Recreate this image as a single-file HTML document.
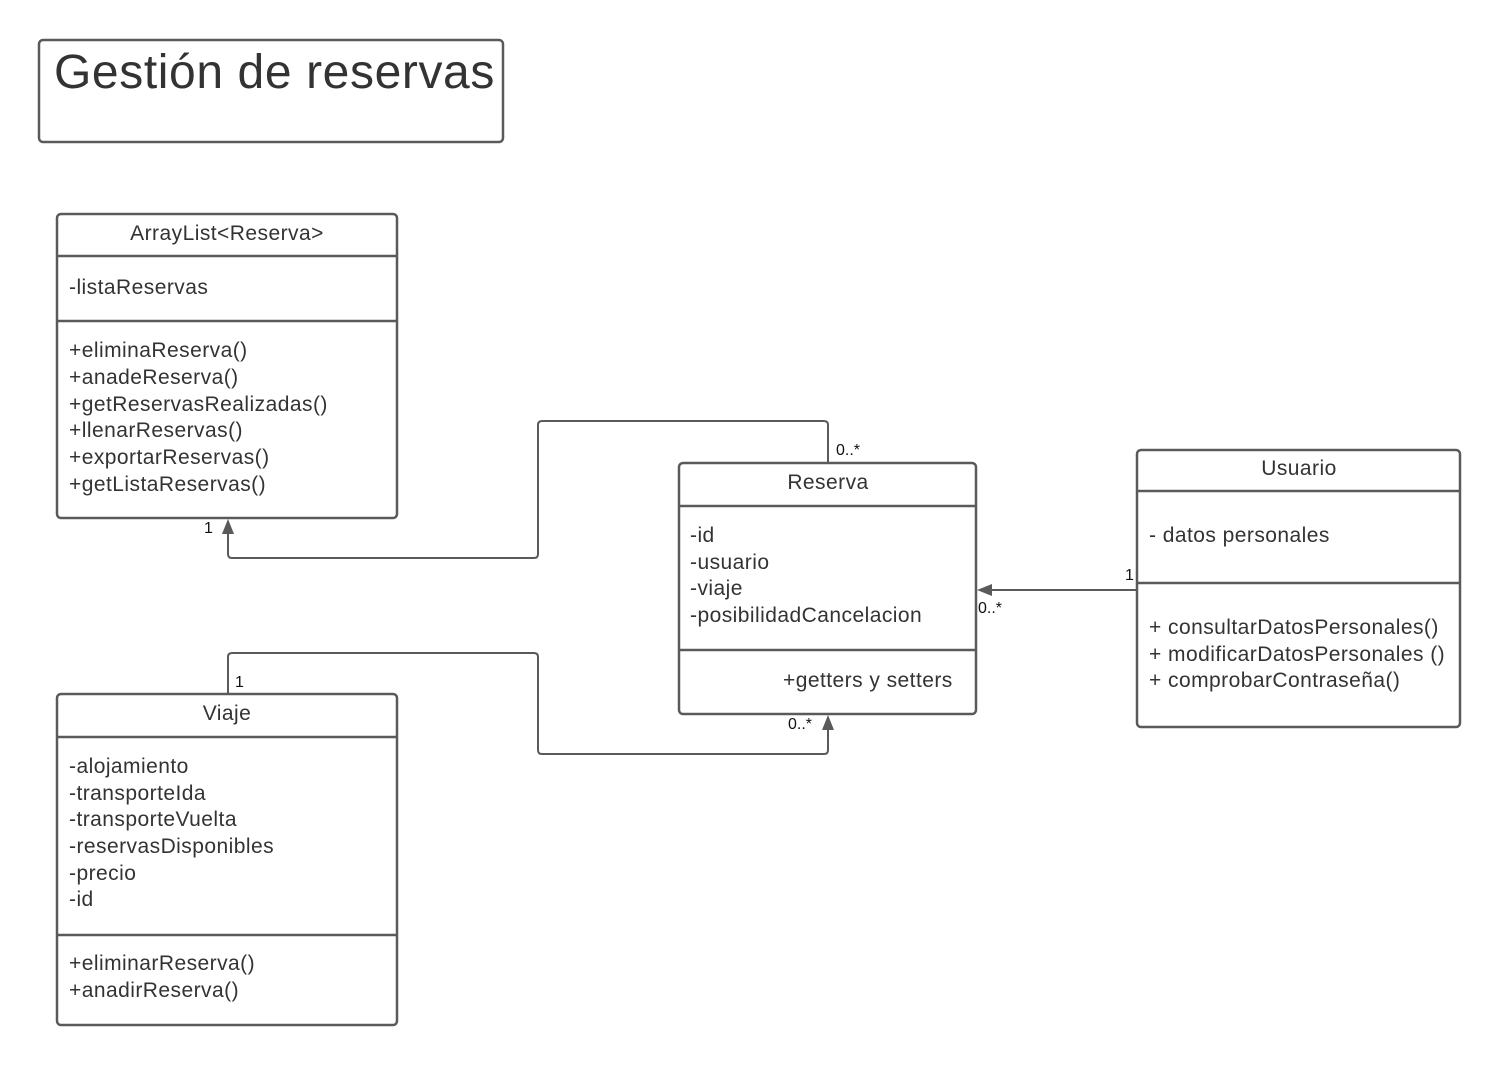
<!DOCTYPE html>
<html><head><meta charset="utf-8"><style>
html,body{margin:0;padding:0;background:#fff}
svg{display:block}
text{font-family:"Liberation Sans",sans-serif;fill:#333}
</style></head><body>
<svg width="1500" height="1065" viewBox="0 0 1500 1065" xmlns="http://www.w3.org/2000/svg">
<g fill="none" stroke="#5a5a5a" stroke-width="2.5">
<rect x="39" y="40" width="464" height="102" rx="4"/>
<rect x="57" y="214" width="340" height="304" rx="4"/>
<line x1="57" y1="256" x2="397" y2="256"/><line x1="57" y1="321" x2="397" y2="321"/>
<rect x="679" y="463" width="297" height="251" rx="4"/>
<line x1="679" y1="506" x2="976" y2="506"/><line x1="679" y1="650" x2="976" y2="650"/>
<rect x="1137" y="450" width="323" height="277" rx="4"/>
<line x1="1137" y1="491" x2="1460" y2="491"/><line x1="1137" y1="583" x2="1460" y2="583"/>
<rect x="57" y="694" width="340" height="331" rx="4"/>
<line x1="57" y1="737" x2="397" y2="737"/><line x1="57" y1="935" x2="397" y2="935"/>
</g>
<g fill="none" stroke="#5a5a5a" stroke-width="2">
<path d="M828 463 V425 Q828 421 824 421 H542 Q538 421 538 425 V554 Q538 558 534 558 H232 Q228 558 228 554 V532"/>
<path d="M1137 590 H990"/>
<path d="M228 694 V657 Q228 653 232 653 H534 Q538 653 538 657 V750 Q538 754 542 754 H824 Q828 754 828 750 V728"/>
</g>
<g fill="#5a5a5a">
<polygon points="228,519 222,534 234,534"/>
<polygon points="977,590 992,584 992,596"/>
<polygon points="828,715 822,730 834,730"/>
</g>
<text x="54" y="88" font-size="48" letter-spacing="0.6">Gestión de reservas</text>
<g font-size="21" letter-spacing="0.45">
<text x="227" y="240" text-anchor="middle">ArrayList&lt;Reserva&gt;</text>
<text x="69" y="294">-listaReservas</text>
<text x="69" y="357">+eliminaReserva()</text>
<text x="69" y="384">+anadeReserva()</text>
<text x="69" y="411">+getReservasRealizadas()</text>
<text x="69" y="437">+llenarReservas()</text>
<text x="69" y="464">+exportarReservas()</text>
<text x="69" y="491">+getListaReservas()</text>
<text x="828" y="489" text-anchor="middle">Reserva</text>
<text x="690" y="542">-id</text>
<text x="690" y="569">-usuario</text>
<text x="690" y="595">-viaje</text>
<text x="690" y="622">-posibilidadCancelacion</text>
<text x="783" y="687">+getters y setters</text>
<text x="1299" y="475" text-anchor="middle">Usuario</text>
<text x="1149" y="542">- datos personales</text>
<text x="1149" y="634">+ consultarDatosPersonales()</text>
<text x="1149" y="661">+ modificarDatosPersonales ()</text>
<text x="1149" y="687">+ comprobarContraseña()</text>
<text x="227" y="720" text-anchor="middle">Viaje</text>
<text x="69" y="773">-alojamiento</text>
<text x="69" y="800">-transporteIda</text>
<text x="69" y="826">-transporteVuelta</text>
<text x="69" y="853">-reservasDisponibles</text>
<text x="69" y="880">-precio</text>
<text x="69" y="906">-id</text>
<text x="69" y="970">+eliminarReserva()</text>
<text x="69" y="997">+anadirReserva()</text>
</g>
<g font-size="16">
<text x="836" y="455" style="fill:#111">0..*</text>
<text x="204" y="533" style="fill:#111">1</text>
<text x="1125" y="580" style="fill:#111">1</text>
<text x="978" y="613" style="fill:#111">0..*</text>
<text x="235" y="687" style="fill:#111">1</text>
<text x="788" y="729" style="fill:#111">0..*</text>
</g>
</svg>
</body></html>
